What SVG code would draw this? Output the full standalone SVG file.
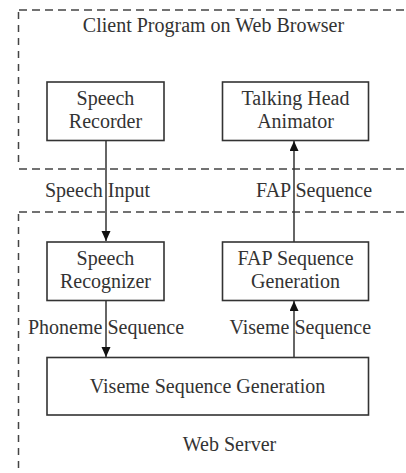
<svg xmlns="http://www.w3.org/2000/svg" width="406" height="473" viewBox="0 0 406 473">
<defs>
<style>
.t{font-family:"Liberation Serif","Times New Roman",serif;font-size:20px;fill:#333;text-anchor:middle}
.l{font-family:"Liberation Serif","Times New Roman",serif;font-size:20px;fill:#333}
.box{fill:#fff;stroke:#333;stroke-width:1.6}
.dash{fill:none;stroke:#444;stroke-width:1.5;stroke-dasharray:8 5}
.vdash{fill:none;stroke:#444;stroke-width:1.5;stroke-dasharray:7 6}
.conn{fill:none;stroke:#333;stroke-width:1.5}
</style>
<marker id="ah" markerUnits="userSpaceOnUse" markerWidth="10" markerHeight="12" refX="10" refY="4.5" orient="auto">
<path d="M0,0 L10,4.5 L0,9 Z" fill="#111"/>
</marker>
</defs>
<rect width="406" height="473" fill="#fff"/>
<g id="client-region">
<path class="dash" d="M19,10 H406"/>
<path class="vdash" d="M18.5,12 V168"/>
<path class="dash" d="M19,169 H406"/>
<text class="t" x="213.5" y="32">Client Program on Web Browser</text>
</g>
<g id="server-region">
<path class="dash" d="M19,212 H406"/>
<path class="vdash" d="M18.5,214 V473"/>
<text class="t" x="229.5" y="451">Web Server</text>
</g>
<g id="speech-recorder">
<rect class="box" x="47" y="82" width="117" height="58.5"/>
<text class="t" x="105.5" y="105">Speech</text>
<text class="t" x="105.5" y="128">Recorder</text>
</g>
<g id="talking-head-animator">
<rect class="box" x="222.5" y="82" width="146" height="58.5"/>
<text class="t" x="295.5" y="105">Talking Head</text>
<text class="t" x="295.5" y="128">Animator</text>
</g>
<g id="speech-recognizer">
<rect class="box" x="47" y="242" width="117" height="58.5"/>
<text class="t" x="105.5" y="265">Speech</text>
<text class="t" x="105.5" y="288">Recognizer</text>
</g>
<g id="fap-sequence-generation">
<rect class="box" x="222.5" y="242" width="146" height="58.5"/>
<text class="t" x="295.5" y="265">FAP Sequence</text>
<text class="t" x="295.5" y="288">Generation</text>
</g>
<g id="viseme-sequence-generation">
<rect class="box" x="47" y="357.5" width="321.5" height="57.5"/>
<text class="t" x="207.5" y="393">Viseme Sequence Generation</text>
</g>
<g id="connectors">
<path class="conn" d="M106,141 V241" marker-end="url(#ah)"/>
<path class="conn" d="M294,242 V141" marker-end="url(#ah)"/>
<path class="conn" d="M106,301 V357" marker-end="url(#ah)"/>
<path class="conn" d="M294,357 V301" marker-end="url(#ah)"/>
<text class="l" x="45" y="197">Speech Input</text>
<text class="l" x="256" y="197">FAP Sequence</text>
<text class="l" x="28" y="334">Phoneme Sequence</text>
<text class="l" x="229.5" y="334">Viseme Sequence</text>
</g>
</svg>
